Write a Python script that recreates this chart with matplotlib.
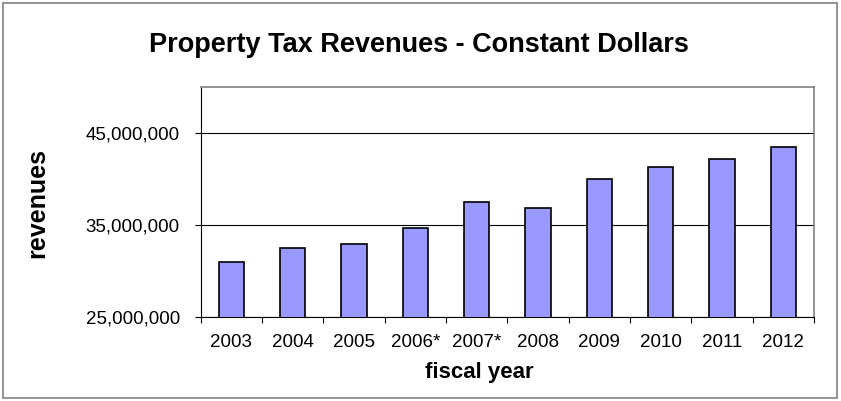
import matplotlib.pyplot as plt
from matplotlib.patches import Rectangle
from matplotlib.ticker import FuncFormatter

years = ['2003', '2004', '2005', '2006*', '2007*', '2008', '2009', '2010', '2011', '2012']
revenues = [30950000, 32500000, 32900000, 34700000, 37450000,
            36800000, 40000000, 41300000, 42100000, 43400000]
y_ticks = [25000000, 35000000, 45000000]

plt.rcParams['font.family'] = ['Liberation Sans', 'DejaVu Sans']

W, H = 841, 401
fig = plt.figure(figsize=(W / 100, H / 100), dpi=100)
ax = fig.add_axes([200.7 / W, 1 - 317 / H, (814 - 200.7) / W, (317 - 86.7) / H])

x = range(len(years))
ax.bar(x, revenues, width=0.41, color='#9999FF', edgecolor='black', linewidth=1.2, zorder=3)

ax.set_xlim(-0.5, len(years) - 0.5)
ax.set_ylim(25000000, 50000000)
ax.set_yticks(y_ticks)
ax.yaxis.set_major_formatter(FuncFormatter(lambda v, p: f'{int(v):,}'))
ax.set_xticks(list(x))
ax.set_xticklabels(years)
# tick marks sit between the categories
ax.set_xticks([i - 0.5 for i in range(len(years) + 1)], minor=True)
ax.tick_params(axis='x', which='major', length=0, labelsize=13.5, pad=12.5)
ax.tick_params(axis='x', which='minor', length=4.5, width=0.8, direction='out')
ax.tick_params(axis='y', length=4, width=0.8, direction='out', labelsize=13.5, pad=11)

ax.grid(axis='y', color='black', linewidth=0.8, zorder=0)
for side in ['top', 'right']:
    ax.spines[side].set_color('#808080')
    ax.spines[side].set_linewidth(1.2)
for side in ['left', 'bottom']:
    ax.spines[side].set_color('black')
    ax.spines[side].set_linewidth(0.8)

fig.text(479 / W, 1 - 378 / H, 'fiscal year', ha='center', va='baseline',
         fontsize=16, fontweight='bold')
fig.text(37 / W, 1 - 202.5 / H, 'revenues', rotation=90, ha='center', va='center',
         fontsize=18, fontweight='bold')
fig.text(419 / W, 1 - 51.7 / H, 'Property Tax Revenues - Constant Dollars', ha='center',
         va='baseline', fontsize=19.5, fontweight='bold')

# outer chart border
fig.patches.append(Rectangle((3 / W, 3 / H), 834 / W, 395 / H, transform=fig.transFigure,
                             fill=False, edgecolor='#808080', linewidth=1.2))

fig.savefig('out.png', dpi=100)
